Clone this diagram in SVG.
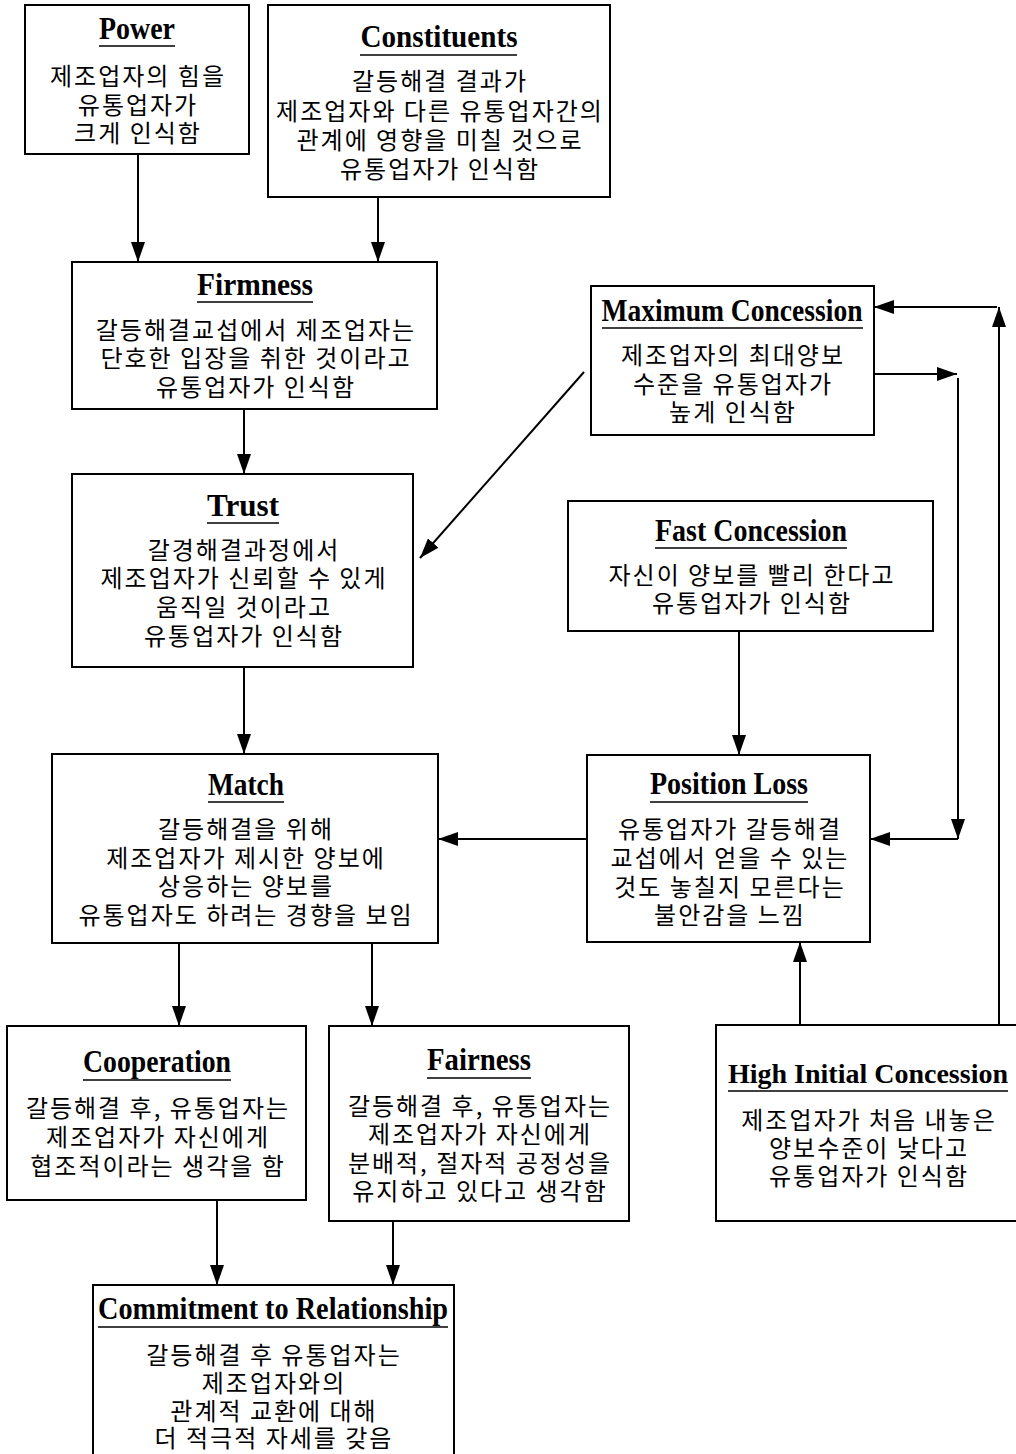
<svg xmlns="http://www.w3.org/2000/svg" width="1016" height="1454" viewBox="0 0 1016 1454">
<defs>
<marker id="ah" markerUnits="userSpaceOnUse" markerWidth="20" markerHeight="14" viewBox="0 0 20 14" refX="20" refY="7" orient="auto">
<path d="M0,0 L20,7 L0,14 Z" fill="#000"/>
</marker>
<style>
.box{fill:#fff;stroke:#000;stroke-width:2}
.t{font-family:"Liberation Serif","Times New Roman",serif;font-weight:bold;font-size:31px;text-anchor:middle;fill:#000}
.ul{stroke:#000;stroke-width:1.6}
.k{font-family:"Noto Sans CJK KR","Noto Sans CJK SC",sans-serif;font-size:24px;letter-spacing:2px;text-anchor:middle;fill:#000}
.c{stroke:#000;stroke-width:2;fill:none;marker-end:url(#ah)}
</style>
</defs>
<rect width="1016" height="1454" fill="#fff"/>

<g id="power">
<rect class="box" x="25" y="5" width="224" height="149"/>
<text class="t" x="137" y="39" textLength="76" lengthAdjust="spacingAndGlyphs">Power</text>
<line class="ul" x1="99" y1="46" x2="175" y2="46"/>
<text class="k" x="138" y="85">제조업자의 힘을</text>
<text class="k" x="138" y="114">유통업자가</text>
<text class="k" x="138" y="142">크게 인식함</text>
</g>

<g id="constituents">
<rect class="box" x="268" y="5" width="342" height="192"/>
<text class="t" x="439" y="47" textLength="157" lengthAdjust="spacingAndGlyphs">Constituents</text>
<line class="ul" x1="360" y1="55" x2="517" y2="55"/>
<text class="k" x="440" y="90">갈등해결 결과가</text>
<text class="k" x="440" y="120">제조업자와 다른 유통업자간의</text>
<text class="k" x="440" y="149">관계에 영향을 미칠 것으로</text>
<text class="k" x="440" y="178">유통업자가 인식함</text>
</g>

<g id="firmness">
<rect class="box" x="72" y="262" width="365" height="147"/>
<text class="t" x="255" y="295" textLength="116" lengthAdjust="spacingAndGlyphs">Firmness</text>
<line class="ul" x1="197" y1="302" x2="313" y2="302"/>
<text class="k" x="256" y="339">갈등해결교섭에서 제조업자는</text>
<text class="k" x="256" y="367">단호한 입장을 취한 것이라고</text>
<text class="k" x="256" y="396">유통업자가 인식함</text>
</g>

<g id="max-concession">
<rect class="box" x="591" y="286" width="283" height="149"/>
<text class="t" x="732" y="321" textLength="261" lengthAdjust="spacingAndGlyphs">Maximum Concession</text>
<line class="ul" x1="602" y1="328" x2="863" y2="328"/>
<text class="k" x="733" y="364">제조업자의 최대양보</text>
<text class="k" x="733" y="393">수준을 유통업자가</text>
<text class="k" x="733" y="421">높게 인식함</text>
</g>

<g id="trust">
<rect class="box" x="72" y="474" width="341" height="193"/>
<text class="t" x="243" y="516" textLength="72" lengthAdjust="spacingAndGlyphs">Trust</text>
<line class="ul" x1="207" y1="523" x2="279" y2="523"/>
<text class="k" x="244" y="559">갈경해결과정에서</text>
<text class="k" x="244" y="587">제조업자가 신뢰할 수 있게</text>
<text class="k" x="244" y="616">움직일 것이라고</text>
<text class="k" x="244" y="645">유통업자가 인식함</text>
</g>

<g id="fast-concession">
<rect class="box" x="568" y="501" width="365" height="130"/>
<text class="t" x="751" y="541" textLength="192" lengthAdjust="spacingAndGlyphs">Fast Concession</text>
<line class="ul" x1="655" y1="548" x2="847" y2="548"/>
<text class="k" x="752" y="584">자신이 양보를 빨리 한다고</text>
<text class="k" x="752" y="612">유통업자가 인식함</text>
</g>

<g id="match">
<rect class="box" x="52" y="754" width="386" height="189"/>
<text class="t" x="246" y="795" textLength="76" lengthAdjust="spacingAndGlyphs">Match</text>
<line class="ul" x1="208" y1="802" x2="284" y2="802"/>
<text class="k" x="246" y="838">갈등해결을 위해</text>
<text class="k" x="246" y="867">제조업자가 제시한 양보에</text>
<text class="k" x="246" y="895">상응하는 양보를</text>
<text class="k" x="246" y="924">유통업자도 하려는 경향을 보임</text>
</g>

<g id="position-loss">
<rect class="box" x="587" y="755" width="283" height="187"/>
<text class="t" x="729" y="794" textLength="158" lengthAdjust="spacingAndGlyphs">Position Loss</text>
<line class="ul" x1="650" y1="802" x2="808" y2="802"/>
<text class="k" x="730" y="838">유통업자가 갈등해결</text>
<text class="k" x="730" y="867">교섭에서 얻을 수 있는</text>
<text class="k" x="730" y="896">것도 놓칠지 모른다는</text>
<text class="k" x="730" y="924">불안감을 느낌</text>
</g>

<g id="cooperation">
<rect class="box" x="7" y="1026" width="299" height="174"/>
<text class="t" x="157" y="1072" textLength="148" lengthAdjust="spacingAndGlyphs">Cooperation</text>
<line class="ul" x1="83" y1="1080" x2="231" y2="1080"/>
<text class="k" x="158" y="1117">갈등해결 후, 유통업자는</text>
<text class="k" x="158" y="1146">제조업자가 자신에게</text>
<text class="k" x="158" y="1175">협조적이라는 생각을 함</text>
</g>

<g id="fairness">
<rect class="box" x="329" y="1026" width="300" height="195"/>
<text class="t" x="479" y="1070" textLength="104" lengthAdjust="spacingAndGlyphs">Fairness</text>
<line class="ul" x1="427" y1="1078" x2="531" y2="1078"/>
<text class="k" x="480" y="1115">갈등해결 후, 유통업자는</text>
<text class="k" x="480" y="1143">제조업자가 자신에게</text>
<text class="k" x="480" y="1172">분배적, 절자적 공정성을</text>
<text class="k" x="480" y="1200">유지하고 있다고 생각함</text>
</g>

<g id="high-initial-concession">
<rect class="box" x="716" y="1025" width="310" height="196"/>
<text class="t" x="868" y="1083" style="font-size:28px" textLength="280" lengthAdjust="spacingAndGlyphs">High Initial Concession</text>
<line class="ul" x1="728" y1="1091" x2="1008" y2="1091"/>
<text class="k" x="869" y="1129">제조업자가 처음 내놓은</text>
<text class="k" x="869" y="1157">양보수준이 낮다고</text>
<text class="k" x="869" y="1185">유통업자가 인식함</text>
</g>

<g id="commitment">
<rect class="box" x="93" y="1285" width="361" height="180"/>
<text class="t" x="273" y="1319" textLength="350" lengthAdjust="spacingAndGlyphs">Commitment to Relationship</text>
<line class="ul" x1="98" y1="1327" x2="448" y2="1327"/>
<text class="k" x="274" y="1364">갈등해결 후 유통업자는</text>
<text class="k" x="274" y="1392">제조업자와의</text>
<text class="k" x="274" y="1420">관계적 교환에 대해</text>
<text class="k" x="274" y="1447">더 적극적 자세를 갖음</text>
</g>

<g id="connectors">
<line class="c" x1="138" y1="154" x2="138" y2="262"/>
<line class="c" x1="378" y1="197" x2="378" y2="262"/>
<line class="c" x1="244" y1="409" x2="244" y2="474"/>
<line class="c" x1="584" y1="372" x2="420" y2="558"/>
<line class="c" x1="244" y1="667" x2="244" y2="754"/>
<line class="c" x1="739" y1="631" x2="739" y2="755"/>
<line class="c" x1="587" y1="839" x2="438" y2="839"/>
<line class="c" x1="874" y1="374" x2="957" y2="374"/>
<line class="c" x1="958" y1="378" x2="958" y2="839"/>
<line class="c" x1="958" y1="839" x2="870" y2="839"/>
<line class="c" x1="999" y1="1025" x2="999" y2="307"/>
<line class="c" x1="997" y1="307" x2="874" y2="307"/>
<line class="c" x1="800" y1="1025" x2="800" y2="942"/>
<line class="c" x1="179" y1="943" x2="179" y2="1026"/>
<line class="c" x1="372" y1="943" x2="372" y2="1026"/>
<line class="c" x1="217" y1="1200" x2="217" y2="1285"/>
<line class="c" x1="393" y1="1221" x2="393" y2="1285"/>
</g>
</svg>
